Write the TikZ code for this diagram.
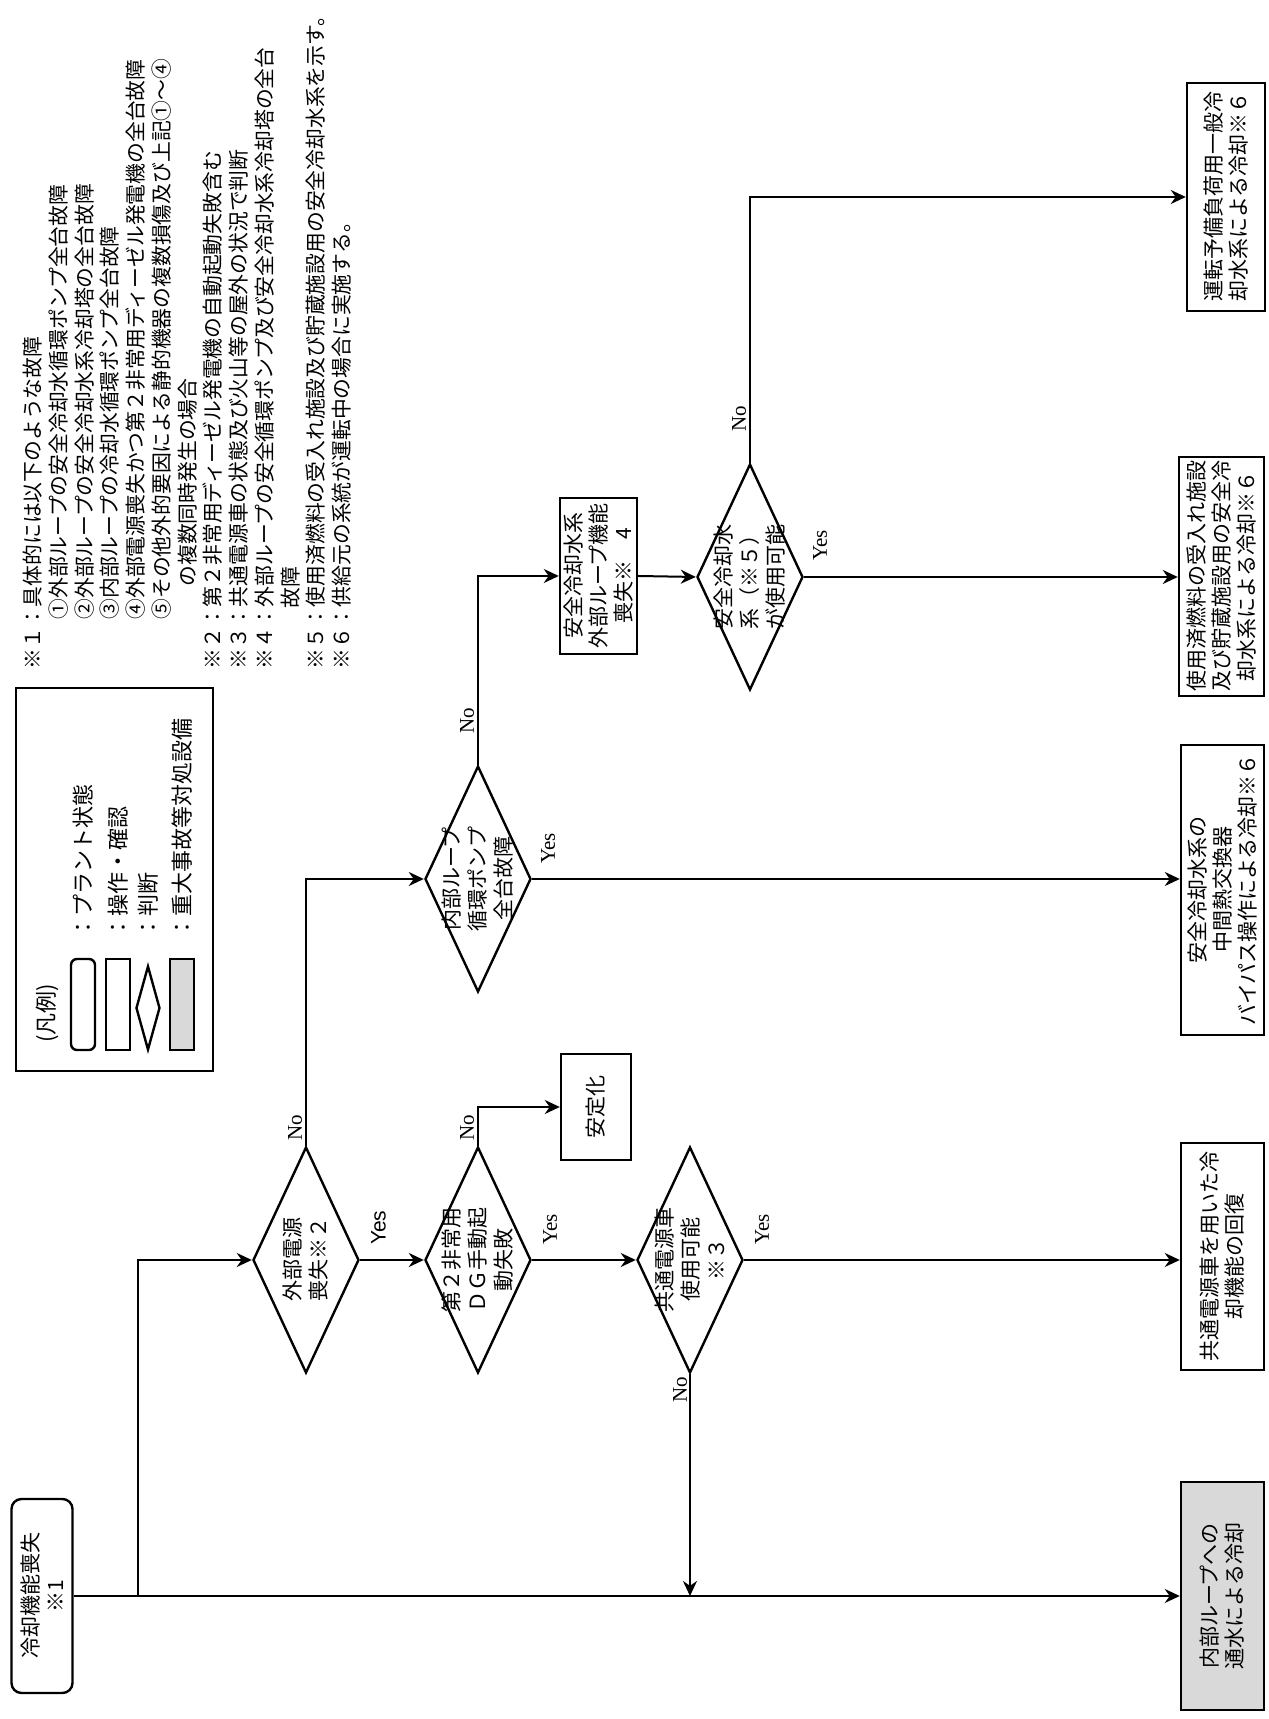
\documentclass[tikz,border=0pt]{standalone}
\usepackage{fontspec}
\setmainfont{Noto Sans CJK JP}
\newfontfamily\romfont{Liberation Serif}
\newfontfamily\arialfont{Liberation Sans}
\usetikzlibrary{shapes.geometric, arrows.meta}

\begin{document}
\begin{tikzpicture}[rotate=90, transform shape, x=0.5pt, y=0.5pt,
        >={Stealth[length=7.5pt, width=7pt]},
        arr/.style={line width=1pt, ->},
        procbox/.style={rectangle, draw, line width=1.2pt, align=center, inner sep=0pt,
            font=\fontsize{10.5}{12.5}\selectfont},
        startbox/.style={procbox, rounded corners=5pt},
        sabox/.style={procbox, fill=black!15},
        decision/.style={diamond, draw, line width=1.2pt, minimum width=113pt,
            minimum height=53pt, inner sep=0pt},
        dtext/.style={align=center, inner sep=0pt, font=\fontsize{10.5}{13}\selectfont},
        yn/.style={inner sep=0pt, font=\romfont\fontsize{10.5}{12}\selectfont},
        note/.style={anchor=west, inner sep=0pt, font=\fontsize{10.4}{13}\selectfont},
        legtext/.style={anchor=west, inner sep=0pt, font=\fontsize{11}{13}\selectfont}]

        % --- Cadre de la page (paysage, tourné de 90 degrés) ---
        \useasboundingbox (0,0) rectangle (1719,1269);

        % ==============================================================
        % 1. LEGENDE
        % ==============================================================
        \node[procbox, minimum width=191.5pt, minimum height=98.5pt] (legend) at (839.5,1154.5) {};
        \node[legtext] (lgtitle) at (676,1222) {(凡例)};

        \node[startbox, rounded corners=3pt, minimum width=45.5pt, minimum height=12pt] (lg1) at (714.5,1186) {};
        \node[procbox, minimum width=45.5pt, minimum height=12pt] (lg2) at (714.5,1151) {};
        \node[decision, minimum width=42pt, minimum height=12pt] (lg3) at (711,1121) {};
        \node[sabox, minimum width=45.5pt, minimum height=12pt] (lg4) at (714.5,1087) {};

        \node[legtext] (lgl1) at (780,1186) {：プラント状態};
        \node[legtext] (lgl2) at (780,1151) {：操作・確認};
        \node[legtext] (lgl3) at (780,1121) {：判断};
        \node[legtext] (lgl4) at (780,1087) {：重大事故等対処設備};

        % ==============================================================
        % 2. NOTES
        % ==============================================================
        \node[note] (n1)  at (1049,1236)   {※１：具体的には以下のような故障};
        \node[note] (n2)  at (1099,1210)   {①外部ループの安全冷却水循環ポンプ全台故障};
        \node[note] (n3)  at (1099,1184.5) {②外部ループの安全冷却水系冷却塔の全台故障};
        \node[note] (n4)  at (1099,1159)   {③内部ループの冷却水循環ポンプ全台故障};
        \node[note] (n5)  at (1099,1133)   {④外部電源喪失かつ第２非常用ディーゼル発電機の全台故障};
        \node[note] (n6)  at (1099,1107)   {⑤その他外的要因による静的機器の複数損傷及び上記①～④};
        \node[note] (n7)  at (1132,1081.5) {の複数同時発生の場合};
        \node[note] (n8)  at (1049,1056)   {※２：第２非常用ディーゼル発電機の自動起動失敗含む};
        \node[note] (n9)  at (1049,1030)   {※３：共通電源車の状態及び火山等の屋外の状況で判断};
        \node[note] (n10) at (1049,1004)   {※４：外部ループの安全循環ポンプ及び安全冷却水系冷却塔の全台};
        \node[note] (n11) at (1110,978.5)  {故障};
        \node[note] (n12) at (1049,953)    {※５：使用済燃料の受入れ施設及び貯蔵施設用の安全冷却水系を示す。};
        \node[note] (n13) at (1049,927)    {※６：供給元の系統が運転中の場合に実施する。};

        % ==============================================================
        % 3. ETATS, OPERATIONS ET JUGEMENTS
        % ==============================================================
        \node[startbox, minimum width=97pt, minimum height=30.5pt] (start) at (123,1227) {冷却機能喪失\\※1};

        \node[decision, label={[dtext]center:外部電源\\喪失※２}] (d1) at (459,963) {};
        \node[decision, label={[dtext]center:第２非常用\\ＤＧ手動起\\動失敗}] (d2) at (459,791) {};
        \node[decision, label={[dtext]center:共通電源車\\使用可能\\※３}] (d3) at (459,579) {};
        \node[decision, label={[dtext]center:内部ループ\\循環ポンプ\\全台故障}] (d4) at (840,791) {};
        \node[decision, label={[dtext]center:安全冷却水\\系（※５）\\が使用可能}] (d5) at (1142,519) {};

        \node[procbox, minimum width=53pt, minimum height=35pt] (stab) at (612,673) {安定化};
        \node[procbox, minimum width=78pt, minimum height=38.5pt] (ext) at (1143,670.5) {安全冷却水系\\外部ループ機能\\喪失※　4};

        % Boites d'arrivée (bas de la page paysage)
        \node[sabox, minimum width=114pt, minimum height=41.5pt] (cool) at (123,46.5) {内部ループへの\\通水による冷却};
        \node[procbox, minimum width=113.5pt, minimum height=41.5pt] (recov) at (462.5,46.5) {共通電源車を用いた冷\\却機能の回復};
        \node[procbox, minimum width=145pt, minimum height=41.5pt] (bypass) at (829,46.5) {安全冷却水系の\\中間熱交換器\\バイパス操作による冷却※６};
        \node[procbox, minimum width=119.5pt, minimum height=42.5pt] (spent) at (1142.5,47.5) {使用済燃料の受入れ施設\\及び貯蔵施設用の安全冷\\却水系による冷却※６};
        \node[procbox, minimum width=114pt, minimum height=39pt] (general) at (1522,43) {運転予備負荷用一般冷\\却水系による冷却※６};

        % ==============================================================
        % 4. LIAISONS
        % ==============================================================
        % Ligne principale et branche vers d1
        \draw[arr] (start.south) -- (cool.north);
        \coordinate (br) at (123,1131);
        \draw[arr] (br) -| (d1.north);

        % Sorties Yes
        \draw[arr] (d1.south) -- (d2.north)
            node[pos=0, yn, font=\arialfont\fontsize{10.5}{12}\selectfont, anchor=north west, xshift=7pt, yshift=-5pt] {Yes};
        \draw[arr] (d2.south) -- (d3.north)
            node[pos=0, yn, anchor=north west, xshift=7pt, yshift=-5pt] {Yes};
        \draw[arr] (d3.south) -- (d3.south |- recov.north)
            node[pos=0, yn, anchor=north west, xshift=7pt, yshift=-5pt] {Yes};
        \draw[arr] (d4.south) -- (d4.south |- bypass.north)
            node[pos=0, yn, anchor=north west, xshift=7pt, yshift=-4pt] {Yes};
        \draw[arr] (d5.south) -- (d5.south |- spent.north)
            node[pos=0, yn, anchor=north west, xshift=7.5pt, yshift=-4pt] {Yes};

        % Sorties No
        \draw[arr] (d1.east) -| (d4.north)
            node[pos=0, yn, anchor=south west, xshift=2pt, yshift=1.5pt] {No};
        \draw[arr] (d2.east) -| (stab.north)
            node[pos=0, yn, anchor=south west, xshift=2pt, yshift=1.5pt] {No};
        \draw[arr] (d3.west) -- (d3.west -| br)
            node[pos=0, yn, anchor=south east, xshift=-1pt, yshift=1pt] {No};
        \draw[arr] (d4.east) -| (ext.north)
            node[pos=0, yn, anchor=south west, xshift=15pt, yshift=1.5pt] {No};
        \draw[arr] (d5.east) -| (general.north)
            node[pos=0, yn, anchor=south west, xshift=15pt, yshift=1.5pt] {No};

        % Boite ext vers d5
        \draw[arr] (ext.south) -- (d5.north);
    \end{tikzpicture}
\end{document}
